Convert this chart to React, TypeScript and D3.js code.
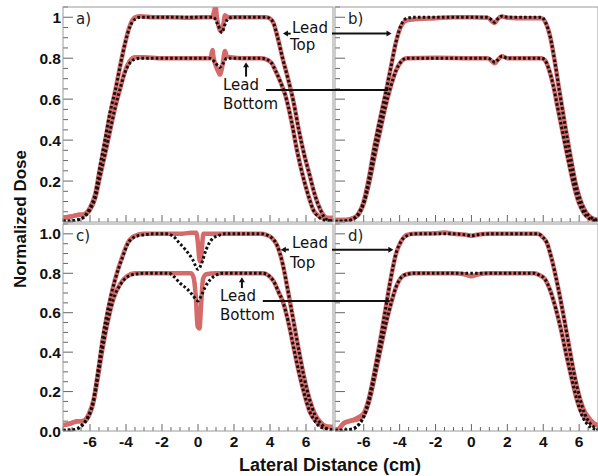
import { useEffect, useRef } from 'react'
import * as d3 from 'd3'

type Pt = [number, number]

// ---- tick values / labels ----
const xTickValues = [-6, -4, -2, 0, 2, 4, 6]
const topYTicks = [0.2, 0.4, 0.6, 0.8, 1.0]
const topYLabels = ['0.2', '0.4', '0.6', '0.8', '1']
const botYTicks = [0, 0.2, 0.4, 0.6, 0.8, 1.0]
const botYLabels = ['0.0', '0.2', '0.4', '0.6', '0.8', '1.0']

// ---- panel a) : measured (red) and calculated (black dotted) ----
const aTopCalc: Pt[] = [[-7.5,0.004],[-7.0,0.006],[-6.6,0.012],[-6.4,0.02],[-6.2,0.04],[-6.0,0.07],[-5.7,0.14],[-5.45,0.27],[-5.17,0.4],[-4.9,0.53],[-4.6,0.64],[-4.33,0.76],[-4.06,0.87],[-3.8,0.95],[-3.5,0.99],[-3.2,1.0],[-2.5,1.0],[-1.5,1.0],[-0.5,1.0],[0.5,1.0],[0.85,1.0],[1.1,0.965],[1.33,0.925],[1.5,0.965],[1.7,0.995],[2.0,1.0],[3.0,1.0],[3.8,1.0],[4.05,0.99],[4.2,0.97],[4.4,0.91],[4.7,0.8],[5.0,0.7],[5.3,0.59],[5.6,0.45],[5.9,0.33],[6.2,0.23],[6.5,0.13],[6.8,0.06],[7.1,0.015],[7.5,0.005]]
const aTopMeas: Pt[] = [[-7.5,0.02],[-7.2,0.025],[-6.9,0.03],[-6.6,0.035],[-6.4,0.035],[-6.2,0.045],[-6.0,0.07],[-5.7,0.14],[-5.45,0.26],[-5.17,0.39],[-4.9,0.52],[-4.6,0.64],[-4.33,0.76],[-4.06,0.87],[-3.8,0.955],[-3.5,1.0],[-3.2,1.005],[-2.5,1.0],[-1.5,1.0],[-0.5,0.998],[0.3,1.0],[0.75,1.0],[0.9,1.03],[0.97,1.06],[1.05,1.0],[1.2,0.94],[1.3,0.93],[1.4,0.96],[1.5,1.01],[1.65,1.0],[2.0,1.0],[3.0,1.0],[3.8,1.0],[4.05,0.99],[4.2,0.97],[4.4,0.91],[4.7,0.8],[5.0,0.7],[5.3,0.59],[5.6,0.45],[5.9,0.33],[6.2,0.23],[6.5,0.13],[6.8,0.06],[7.0,0.03],[7.2,0.02],[7.5,0.02]]
const aBotCalc: Pt[] = [[-7.5,0.004],[-7.0,0.006],[-6.6,0.012],[-6.4,0.02],[-6.2,0.035],[-6.0,0.06],[-5.7,0.12],[-5.45,0.22],[-5.17,0.33],[-4.9,0.44],[-4.6,0.56],[-4.33,0.65],[-4.06,0.73],[-3.8,0.775],[-3.5,0.795],[-3.2,0.8],[-2.0,0.8],[-1.0,0.8],[0.0,0.8],[0.65,0.8],[0.95,0.78],[1.2,0.755],[1.4,0.775],[1.6,0.8],[2.5,0.8],[3.5,0.8],[3.9,0.79],[4.1,0.775],[4.3,0.74],[4.6,0.68],[4.85,0.62],[5.2,0.49],[5.5,0.35],[5.9,0.2],[6.2,0.11],[6.4,0.06],[6.7,0.025],[7.0,0.01],[7.5,0.005]]
const aBotMeas: Pt[] = [[-7.5,0.02],[-7.2,0.025],[-6.9,0.03],[-6.6,0.035],[-6.4,0.035],[-6.2,0.04],[-6.0,0.06],[-5.7,0.12],[-5.45,0.22],[-5.17,0.33],[-4.9,0.44],[-4.6,0.56],[-4.33,0.65],[-4.06,0.735],[-3.8,0.785],[-3.5,0.805],[-3.0,0.805],[-2.0,0.8],[-1.0,0.8],[0.0,0.8],[0.7,0.8],[0.8,0.84],[0.87,0.8],[1.1,0.74],[1.22,0.72],[1.35,0.76],[1.5,0.835],[1.6,0.81],[1.8,0.805],[2.5,0.8],[3.5,0.8],[3.9,0.79],[4.1,0.775],[4.3,0.74],[4.6,0.68],[4.85,0.62],[5.2,0.49],[5.5,0.35],[5.9,0.2],[6.2,0.11],[6.4,0.06],[6.7,0.03],[7.0,0.02],[7.5,0.02]]

// ---- panel b) ----
const bTopCalc: Pt[] = [[-7.6,0.003],[-7.0,0.005],[-6.6,0.015],[-6.3,0.04],[-6.0,0.1],[-5.7,0.22],[-5.4,0.37],[-5.1,0.5],[-4.8,0.62],[-4.5,0.75],[-4.2,0.88],[-3.9,0.965],[-3.6,0.995],[-3.2,1.0],[-2.0,1.0],[-1.0,1.0],[0.0,1.0],[0.9,1.0],[1.15,0.985],[1.3,0.975],[1.45,0.99],[1.7,1.005],[2.0,1.0],[3.0,1.0],[3.9,1.0],[4.15,0.97],[4.4,0.9],[4.65,0.78],[4.9,0.64],[5.2,0.48],[5.5,0.33],[5.8,0.19],[6.1,0.1],[6.4,0.045],[6.7,0.02],[7.05,0.008]]
const bTopMeas: Pt[] = [[-7.6,0.01],[-7.0,0.01],[-6.6,0.018],[-6.3,0.04],[-6.0,0.1],[-5.7,0.22],[-5.4,0.37],[-5.1,0.5],[-4.8,0.62],[-4.5,0.75],[-4.2,0.88],[-3.9,0.96],[-3.6,0.985],[-3.2,0.99],[-2.0,0.995],[-1.0,1.0],[0.0,1.0],[0.9,0.998],[1.15,0.98],[1.3,0.972],[1.45,0.99],[1.7,1.003],[2.0,0.998],[3.0,0.995],[3.9,0.995],[4.15,0.97],[4.4,0.9],[4.65,0.78],[4.9,0.64],[5.2,0.48],[5.5,0.33],[5.8,0.19],[6.1,0.1],[6.4,0.045],[6.7,0.02],[7.05,0.01]]
const bBotCalc: Pt[] = [[-7.6,0.003],[-7.0,0.005],[-6.6,0.015],[-6.3,0.035],[-6.0,0.09],[-5.7,0.19],[-5.4,0.32],[-5.1,0.44],[-4.8,0.56],[-4.5,0.66],[-4.2,0.74],[-3.9,0.785],[-3.6,0.8],[-2.0,0.8],[0.0,0.8],[0.9,0.8],[1.15,0.79],[1.3,0.78],[1.45,0.79],[1.7,0.81],[2.0,0.8],[3.0,0.8],[3.9,0.8],[4.1,0.79],[4.3,0.75],[4.55,0.67],[4.8,0.56],[5.1,0.43],[5.4,0.3],[5.7,0.18],[6.0,0.09],[6.3,0.04],[6.6,0.015],[7.05,0.005]]
const bBotMeas: Pt[] = [[-7.6,0.01],[-7.0,0.01],[-6.6,0.018],[-6.3,0.035],[-6.0,0.09],[-5.7,0.19],[-5.4,0.32],[-5.1,0.44],[-4.8,0.56],[-4.5,0.66],[-4.2,0.74],[-3.9,0.785],[-3.6,0.8],[-2.0,0.802],[0.0,0.8],[0.9,0.8],[1.15,0.785],[1.3,0.775],[1.45,0.79],[1.7,0.81],[2.0,0.8],[3.0,0.8],[3.9,0.8],[4.1,0.79],[4.3,0.75],[4.55,0.67],[4.8,0.56],[5.1,0.43],[5.4,0.3],[5.7,0.18],[6.0,0.09],[6.3,0.04],[6.6,0.018],[7.05,0.01]]

// ---- panel c) ----
const cTopCalc: Pt[] = [[-7.5,0.004],[-7.0,0.006],[-6.7,0.012],[-6.4,0.035],[-6.1,0.075],[-5.8,0.16],[-5.55,0.31],[-5.3,0.47],[-5.0,0.62],[-4.6,0.77],[-4.2,0.88],[-3.9,0.95],[-3.5,0.985],[-3.0,0.995],[-2.5,1.0],[-1.8,1.0],[-1.4,0.99],[-1.1,0.96],[-0.7,0.92],[-0.3,0.87],[0.0,0.82],[0.2,0.85],[0.45,0.92],[0.75,0.97],[1.1,0.99],[1.5,1.0],[2.5,1.0],[3.5,1.0],[3.8,0.995],[4.1,0.98],[4.4,0.94],[4.7,0.85],[5.0,0.71],[5.3,0.56],[5.6,0.41],[5.9,0.27],[6.2,0.16],[6.5,0.08],[6.8,0.04],[7.1,0.015],[7.5,0.005]]
const cTopMeas: Pt[] = [[-7.5,0.03],[-7.2,0.035],[-6.9,0.045],[-6.7,0.05],[-6.5,0.05],[-6.3,0.055],[-6.1,0.08],[-5.8,0.16],[-5.55,0.3],[-5.3,0.46],[-5.0,0.61],[-4.6,0.77],[-4.2,0.885],[-3.9,0.955],[-3.5,0.99],[-3.0,1.0],[-2.0,1.0],[-1.0,1.0],[-0.4,1.005],[-0.1,1.005],[0.0,0.95],[0.08,0.87],[0.15,0.86],[0.22,0.93],[0.3,1.0],[0.6,1.0],[1.5,1.0],[2.5,1.0],[3.5,1.0],[3.8,0.995],[4.1,0.98],[4.4,0.94],[4.7,0.85],[5.0,0.71],[5.3,0.56],[5.6,0.41],[5.9,0.27],[6.2,0.16],[6.5,0.085],[6.8,0.045],[7.1,0.025],[7.5,0.02]]
const cBotCalc: Pt[] = [[-7.5,0.004],[-7.0,0.006],[-6.7,0.012],[-6.4,0.03],[-6.1,0.07],[-5.8,0.15],[-5.55,0.28],[-5.3,0.42],[-5.0,0.56],[-4.7,0.67],[-4.33,0.74],[-3.95,0.78],[-3.5,0.795],[-3.0,0.8],[-2.0,0.8],[-1.6,0.8],[-1.3,0.78],[-1.0,0.75],[-0.6,0.72],[-0.3,0.69],[0.0,0.66],[0.2,0.69],[0.4,0.73],[0.7,0.77],[1.0,0.79],[1.4,0.8],[2.5,0.8],[3.6,0.8],[3.9,0.79],[4.2,0.76],[4.5,0.7],[4.7,0.66],[5.0,0.56],[5.3,0.43],[5.6,0.3],[5.9,0.19],[6.2,0.1],[6.5,0.05],[6.8,0.02],[7.2,0.01],[7.5,0.005]]
const cBotMeas: Pt[] = [[-7.5,0.03],[-7.2,0.035],[-6.9,0.045],[-6.7,0.05],[-6.5,0.05],[-6.3,0.05],[-6.1,0.07],[-5.8,0.15],[-5.55,0.28],[-5.3,0.42],[-5.0,0.56],[-4.7,0.67],[-4.33,0.745],[-3.95,0.785],[-3.5,0.8],[-3.0,0.8],[-2.0,0.8],[-1.0,0.8],[-0.4,0.8],[-0.25,0.78],[-0.12,0.68],[-0.02,0.53],[0.08,0.52],[0.18,0.65],[0.28,0.77],[0.45,0.795],[1.0,0.8],[2.5,0.8],[3.6,0.8],[3.9,0.79],[4.2,0.76],[4.5,0.7],[4.7,0.66],[5.0,0.56],[5.3,0.43],[5.6,0.3],[5.9,0.19],[6.2,0.1],[6.5,0.055],[6.8,0.03],[7.2,0.02],[7.5,0.02]]

// ---- panel d) ----
const dTopCalc: Pt[] = [[-7.6,0.003],[-7.0,0.005],[-6.6,0.012],[-6.3,0.03],[-6.0,0.075],[-5.7,0.17],[-5.4,0.3],[-5.1,0.45],[-4.8,0.61],[-4.5,0.77],[-4.2,0.9],[-3.9,0.965],[-3.6,0.99],[-3.2,1.0],[-2.0,1.0],[-1.0,1.0],[-0.3,0.995],[0.0,0.99],[0.3,0.995],[1.0,1.0],[2.0,1.0],[3.0,1.0],[3.7,1.0],[3.95,0.985],[4.2,0.955],[4.45,0.88],[4.8,0.74],[5.1,0.6],[5.4,0.45],[5.7,0.3],[6.0,0.18],[6.3,0.09],[6.6,0.04],[6.9,0.015],[7.05,0.008]]
const dTopMeas: Pt[] = [[-7.6,0.005],[-7.4,0.01],[-7.1,0.04],[-6.8,0.05],[-6.5,0.06],[-6.2,0.075],[-6.0,0.09],[-5.7,0.17],[-5.4,0.3],[-5.1,0.45],[-4.8,0.61],[-4.5,0.77],[-4.2,0.9],[-3.9,0.965],[-3.6,0.995],[-3.2,1.0],[-2.0,1.003],[-1.5,1.007],[-1.0,1.0],[-0.3,0.995],[0.0,0.99],[0.3,0.995],[1.0,1.0],[2.0,1.0],[3.0,1.0],[3.7,1.0],[3.95,0.985],[4.2,0.955],[4.45,0.88],[4.8,0.74],[5.1,0.6],[5.4,0.45],[5.7,0.3],[6.0,0.18],[6.3,0.1],[6.6,0.06],[6.9,0.035],[7.05,0.03]]
const dBotCalc: Pt[] = [[-7.6,0.003],[-7.0,0.005],[-6.6,0.01],[-6.3,0.03],[-6.0,0.07],[-5.7,0.15],[-5.4,0.27],[-5.1,0.4],[-4.8,0.53],[-4.5,0.64],[-4.2,0.73],[-3.9,0.78],[-3.6,0.795],[-3.2,0.8],[-1.0,0.8],[0.0,0.8],[1.0,0.8],[3.5,0.8],[3.8,0.79],[4.1,0.77],[4.4,0.71],[4.7,0.62],[5.0,0.51],[5.3,0.38],[5.6,0.26],[5.9,0.15],[6.2,0.07],[6.5,0.03],[6.8,0.012],[7.05,0.005]]
const dBotMeas: Pt[] = [[-7.6,0.005],[-7.4,0.01],[-7.1,0.04],[-6.8,0.05],[-6.5,0.055],[-6.3,0.06],[-6.0,0.08],[-5.7,0.15],[-5.4,0.27],[-5.1,0.4],[-4.8,0.53],[-4.5,0.64],[-4.2,0.73],[-3.9,0.78],[-3.6,0.795],[-3.2,0.8],[-1.0,0.8],[-0.4,0.795],[0.0,0.785],[0.4,0.795],[1.0,0.8],[3.5,0.8],[3.8,0.79],[4.1,0.77],[4.4,0.71],[4.7,0.62],[5.0,0.51],[5.3,0.38],[5.6,0.26],[5.9,0.15],[6.2,0.08],[6.5,0.05],[6.8,0.035],[7.05,0.03]]

const W = 598
const H = 476
const RED = '#d46a6a'
const FRAME = '#9a9a9a'
const TICK = '#666'
const AXIS_FONT = '"Liberation Sans", Arial, sans-serif'
const NOTE_FONT = '"DejaVu Sans", Verdana, sans-serif'

type Panel = {
  key: string
  label: string
  x: [number, number]
  y: [number, number]
  xd: [number, number]
  meas: Pt[][]
  calc: Pt[][]
  yTicks: number[] | null
  yLabels: string[] | null
  xLabels: boolean
}

const panels: Panel[] = [
  { key: 'a', label: 'a)', x: [63, 333], y: [222, 7], xd: [-7.5, 7.5], meas: [aTopMeas, aBotMeas], calc: [aTopCalc, aBotCalc], yTicks: topYTicks, yLabels: topYLabels, xLabels: false },
  { key: 'b', label: 'b)', x: [335, 598], y: [222, 7], xd: [-7.6, 7.05], meas: [bTopMeas, bBotMeas], calc: [bTopCalc, bBotCalc], yTicks: null, yLabels: null, xLabels: false },
  { key: 'c', label: 'c)', x: [63, 333], y: [431, 224], xd: [-7.5, 7.5], meas: [cTopMeas, cBotMeas], calc: [cTopCalc, cBotCalc], yTicks: botYTicks, yLabels: botYLabels, xLabels: true },
  { key: 'd', label: 'd)', x: [335, 598], y: [431, 224], xd: [-7.6, 7.05], meas: [dTopMeas, dBotMeas], calc: [dTopCalc, dBotCalc], yTicks: null, yLabels: null, xLabels: true },
]

export default function App() {
  const ref = useRef<SVGSVGElement>(null)

  useEffect(() => {
    const svg = d3.select(ref.current)
    svg.selectAll('*').remove()
    svg.append('rect').attr('width', W).attr('height', H).attr('fill', '#fff')
    const defs = svg.append('defs')

    const scales: Record<string, { xs: d3.ScaleLinear<number, number>, ys: d3.ScaleLinear<number, number> }> = {}

    panels.forEach(p => {
      const xs = d3.scaleLinear().domain(p.xd).range(p.x)
      const ys = d3.scaleLinear().domain([0, 1.05]).range(p.y)
      scales[p.key] = { xs, ys }
      const g = svg.append('g')

      defs.append('clipPath').attr('id', `clip-${p.key}`)
        .append('rect')
        .attr('x', p.x[0]).attr('y', p.y[1])
        .attr('width', p.x[1] - p.x[0]).attr('height', p.y[0] - p.y[1])

      // ticks, pointing into the frame
      d3.range(0, 1.0501, 0.05).forEach((v, i) => {
        const major = i % 4 === 0
        g.append('line')
          .attr('x1', p.x[0]).attr('x2', p.x[0] + (major ? 10 : 5))
          .attr('y1', ys(v)).attr('y2', ys(v))
          .attr('stroke', TICK).attr('stroke-width', 1)
      })
      d3.range(-7.5, 7.501, 0.5).filter(v => v >= p.xd[0] && v <= p.xd[1]).forEach(v => {
        const major = Math.abs(v % 2) < 1e-6
        g.append('line')
          .attr('x1', xs(v)).attr('x2', xs(v))
          .attr('y1', p.y[0]).attr('y2', p.y[0] - (major ? 7 : 4))
          .attr('stroke', TICK).attr('stroke-width', 1)
      })

      // curves
      const line = d3.line<Pt>().x(d => xs(d[0])).y(d => ys(d[1])).curve(d3.curveMonotoneX)
      const curves = g.append('g').attr('clip-path', `url(#clip-${p.key})`)
      p.meas.forEach(s => {
        curves.append('path').attr('d', line(s)).attr('fill', 'none')
          .attr('stroke', RED).attr('stroke-width', 4.5).attr('stroke-linejoin', 'round')
      })
      p.calc.forEach(s => {
        curves.append('path').attr('d', line(s)).attr('fill', 'none')
          .attr('stroke', '#111').attr('stroke-width', 3).attr('stroke-dasharray', '2.6 2.2')
      })

      // frame
      g.append('rect')
        .attr('x', p.x[0]).attr('y', p.y[1])
        .attr('width', p.x[1] - p.x[0]).attr('height', p.y[0] - p.y[1])
        .attr('fill', 'none').attr('stroke', FRAME).attr('stroke-width', 1)

      // y labels
      if (p.yTicks && p.yLabels) {
        const labels = p.yLabels
        g.selectAll('text.yl').data(p.yTicks).enter().append('text')
          .attr('x', p.x[0] - 2).attr('y', d => ys(d))
          .attr('dy', '0.36em').attr('text-anchor', 'end')
          .style('font-family', AXIS_FONT).style('font-weight', 700).style('font-size', '15.5px')
          .attr('fill', '#111')
          .text((d, i) => labels[i])
      }
      if (p.xLabels) {
        g.selectAll('text.xl').data(xTickValues).enter().append('text')
          .attr('x', d => xs(d)).attr('y', p.y[0] + 16)
          .attr('text-anchor', 'middle')
          .style('font-family', AXIS_FONT).style('font-weight', 700).style('font-size', '15.5px')
          .attr('fill', '#111')
          .text(d => String(d).replace('-', '-'))
      }

      // panel label
      g.append('text')
        .attr('x', p.x[0] + 13).attr('y', p.y[1] + 17)
        .style('font-family', NOTE_FONT).style('font-size', '15px')
        .attr('fill', '#222')
        .text(p.label)
    })

    // annotations
    const ann = svg.append('g')
    const arrowHead = (x: number, y: number, dir: 'left' | 'right' | 'up', s = 5) => {
      let pts: Pt[]
      if (dir === 'left') pts = [[x, y], [x + s, y - s * 0.6], [x + s, y + s * 0.6]]
      else if (dir === 'right') pts = [[x, y], [x - s, y - s * 0.6], [x - s, y + s * 0.6]]
      else pts = [[x, y], [x - s * 0.6, y + s], [x + s * 0.6, y + s]]
      ann.append('path').attr('d', `M${pts.map(q => q.join(',')).join('L')}Z`).attr('fill', '#111')
    }
    const hline = (x1: number, x2: number, y: number) => {
      ann.append('line').attr('x1', x1).attr('x2', x2).attr('y1', y).attr('y2', y)
        .attr('stroke', '#111').attr('stroke-width', 2)
    }
    const vline = (x: number, y1: number, y2: number) => {
      ann.append('line').attr('x1', x).attr('x2', x).attr('y1', y1).attr('y2', y2)
        .attr('stroke', '#111').attr('stroke-width', 2)
    }
    const note = (x: number, y: number, t: string) => {
      ann.append('text').attr('x', x).attr('y', y)
        .style('font-family', NOTE_FONT).style('font-size', '15px').attr('fill', '#111').text(t)
    }

    const pairs = [
      { L: 'a', R: 'b', topY: 0.92, botY: 0.645, leadX: 5.22, leadY: 0.925, topTY: 0.84, arrowHead: 4.72, arrowTail: 5.15, rEnd: -4.45, botEnd: -4.65, botStart: 3.78, bLeadX: 1.39, bLeadY: 0.645, bBotY: 0.552, upX: 2.67, upFrom: 0.71, upTo: 0.78 },
      { L: 'c', R: 'd', topY: 0.92, botY: 0.66, leadX: 5.22, leadY: 0.93, topTY: 0.828, arrowHead: 4.6, arrowTail: 5.05, rEnd: -4.35, botEnd: -4.55, botStart: 3.6, bLeadX: 1.22, bLeadY: 0.66, bBotY: 0.563, upX: 2.44, upFrom: 0.725, upTo: 0.78 },
    ]
    pairs.forEach(a => {
      const { xs, ys } = scales[a.L]
      const r = scales[a.R]
      const yTop = ys(a.topY)
      const yBot = ys(a.botY)
      // small arrow to top curve
      hline(xs(a.arrowHead) + 3, xs(a.arrowTail), yTop)
      arrowHead(xs(a.arrowHead), yTop, 'left')
      // long arrow into right panel
      hline(xs(7.5) - 1, r.xs(a.rEnd) - 4, yTop)
      arrowHead(r.xs(a.rEnd), yTop, 'right')
      // bottom long line
      hline(xs(a.botStart), r.xs(a.botEnd), yBot)
      note(xs(a.leadX), ys(a.leadY), 'Lead')
      note(xs(a.leadX) - 2, ys(a.topTY), 'Top')
      note(xs(a.bLeadX), ys(a.bLeadY), 'Lead')
      note(xs(a.bLeadX), ys(a.bBotY), 'Bottom')
      vline(xs(a.upX), ys(a.upFrom), ys(a.upTo) + 4)
      arrowHead(xs(a.upX), ys(a.upTo), 'up')
    })

    // axis titles
    svg.append('text')
      .attr('transform', `translate(26,${(7 + 431) / 2}) rotate(-90)`)
      .attr('text-anchor', 'middle')
      .style('font-family', AXIS_FONT).style('font-weight', 700).style('font-size', '17px')
      .attr('fill', '#111')
      .text('Normalized Dose')
    svg.append('text')
      .attr('x', 330).attr('y', 471)
      .attr('text-anchor', 'middle')
      .style('font-family', AXIS_FONT).style('font-weight', 700).style('font-size', '18px')
      .attr('fill', '#111')
      .text('Lateral Distance (cm)')
  }, [])

  return <svg ref={ref} width={W} height={H} style={{ position: 'absolute', left: 0, top: 0, display: 'block' }} />
}
